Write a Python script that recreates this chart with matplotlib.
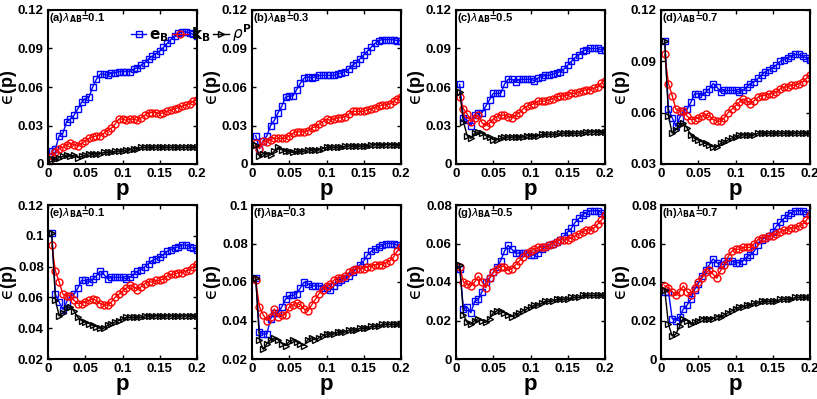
import matplotlib.pyplot as plt
import numpy as np

p = np.arange(1, 41) * 0.005

# panel (a) lambda_AB = 0.1
a_e = [0.010, 0.012, 0.022, 0.024, 0.033, 0.035, 0.038, 0.043, 0.048, 0.051,
       0.052, 0.060, 0.066, 0.070, 0.070, 0.069, 0.071, 0.071, 0.072, 0.072,
       0.072, 0.072, 0.074, 0.075, 0.077, 0.079, 0.082, 0.084, 0.086, 0.088,
       0.091, 0.094, 0.097, 0.100, 0.102, 0.103, 0.103, 0.102, 0.101, 0.100]
a_k = [0.006, 0.009, 0.012, 0.013, 0.015, 0.016, 0.015, 0.014, 0.016, 0.018,
       0.020, 0.021, 0.022, 0.022, 0.024, 0.026, 0.028, 0.031, 0.035, 0.035,
       0.034, 0.035, 0.035, 0.034, 0.036, 0.038, 0.040, 0.040, 0.040, 0.039,
       0.040, 0.041, 0.042, 0.043, 0.044, 0.045, 0.046, 0.047, 0.049, 0.050]
a_r = [0.004, 0.004, 0.005, 0.006, 0.007, 0.006, 0.007, 0.005, 0.006, 0.007,
       0.008, 0.008, 0.008, 0.008, 0.009, 0.009, 0.009, 0.010, 0.010, 0.010,
       0.011, 0.011, 0.012, 0.012, 0.013, 0.013, 0.013, 0.013, 0.013, 0.013,
       0.013, 0.013, 0.013, 0.013, 0.013, 0.013, 0.013, 0.013, 0.013, 0.013]

# panel (b) lambda_AB = 0.3
b_e = [0.022, 0.012, 0.018, 0.022, 0.030, 0.034, 0.040, 0.045, 0.052, 0.053,
       0.053, 0.058, 0.063, 0.067, 0.068, 0.067, 0.068, 0.069, 0.069, 0.069,
       0.069, 0.069, 0.070, 0.071, 0.072, 0.074, 0.077, 0.079, 0.082, 0.085,
       0.088, 0.091, 0.094, 0.096, 0.097, 0.097, 0.097, 0.097, 0.096, 0.096]
b_k = [0.016, 0.012, 0.018, 0.017, 0.019, 0.020, 0.020, 0.020, 0.020, 0.022,
       0.024, 0.025, 0.025, 0.025, 0.026, 0.028, 0.029, 0.031, 0.033, 0.035,
       0.034, 0.035, 0.036, 0.036, 0.037, 0.039, 0.041, 0.041, 0.041, 0.041,
       0.042, 0.043, 0.044, 0.045, 0.046, 0.046, 0.047, 0.049, 0.051, 0.052]
b_r = [0.015, 0.006, 0.008, 0.008, 0.007, 0.010, 0.013, 0.011, 0.010, 0.010,
       0.009, 0.010, 0.010, 0.010, 0.011, 0.011, 0.011, 0.011, 0.012, 0.013,
       0.013, 0.013, 0.013, 0.013, 0.014, 0.014, 0.014, 0.014, 0.014, 0.014,
       0.014, 0.015, 0.015, 0.015, 0.015, 0.015, 0.015, 0.015, 0.015, 0.015]

# panel (c) lambda_AB = 0.5
c_e = [0.062, 0.036, 0.034, 0.030, 0.038, 0.040, 0.040, 0.045, 0.050, 0.055,
       0.055, 0.055, 0.062, 0.066, 0.066, 0.064, 0.066, 0.066, 0.066, 0.066,
       0.065, 0.067, 0.068, 0.069, 0.069, 0.070, 0.071, 0.072, 0.074, 0.077,
       0.080, 0.083, 0.085, 0.088, 0.089, 0.090, 0.090, 0.090, 0.089, 0.089]
c_k = [0.052, 0.043, 0.039, 0.033, 0.036, 0.038, 0.032, 0.030, 0.032, 0.035,
       0.037, 0.038, 0.038, 0.037, 0.036, 0.038, 0.040, 0.043, 0.045, 0.046,
       0.047, 0.049, 0.049, 0.049, 0.050, 0.051, 0.052, 0.053, 0.053, 0.054,
       0.055, 0.055, 0.056, 0.057, 0.058, 0.058, 0.059, 0.060, 0.063, 0.065]
c_r = [0.056, 0.033, 0.022, 0.020, 0.024, 0.025, 0.024, 0.022, 0.021, 0.019,
       0.019, 0.020, 0.021, 0.021, 0.021, 0.021, 0.021, 0.021, 0.022, 0.022,
       0.022, 0.022, 0.023, 0.023, 0.023, 0.023, 0.023, 0.024, 0.024, 0.024,
       0.024, 0.024, 0.024, 0.024, 0.025, 0.025, 0.025, 0.025, 0.025, 0.025]

# panel (d) lambda_AB = 0.7
d_e = [0.102, 0.062, 0.057, 0.052, 0.057, 0.061, 0.062, 0.066, 0.071, 0.071,
       0.070, 0.072, 0.074, 0.077, 0.075, 0.072, 0.073, 0.073, 0.073, 0.073,
       0.072, 0.073, 0.075, 0.077, 0.078, 0.080, 0.082, 0.084, 0.085, 0.086,
       0.088, 0.090, 0.091, 0.092, 0.093, 0.094, 0.094, 0.093, 0.092, 0.091]
d_k = [0.094, 0.077, 0.070, 0.062, 0.061, 0.061, 0.058, 0.056, 0.056, 0.057,
       0.058, 0.059, 0.058, 0.056, 0.055, 0.055, 0.057, 0.060, 0.062, 0.064,
       0.066, 0.068, 0.067, 0.065, 0.067, 0.069, 0.070, 0.070, 0.071, 0.071,
       0.072, 0.074, 0.075, 0.075, 0.076, 0.076, 0.077, 0.078, 0.080, 0.082]
d_r = [0.102, 0.058, 0.048, 0.050, 0.053, 0.054, 0.051, 0.047, 0.045, 0.044,
       0.043, 0.042, 0.041, 0.040, 0.040, 0.042, 0.043, 0.044, 0.045, 0.046,
       0.047, 0.047, 0.047, 0.047, 0.047, 0.048, 0.048, 0.048, 0.048, 0.048,
       0.048, 0.048, 0.048, 0.048, 0.048, 0.048, 0.048, 0.048, 0.048, 0.048]

# panel (e) lambda_BA = 0.1
e_e = [0.102, 0.062, 0.057, 0.052, 0.057, 0.061, 0.062, 0.066, 0.071, 0.071,
       0.070, 0.072, 0.074, 0.077, 0.075, 0.072, 0.073, 0.073, 0.073, 0.073,
       0.072, 0.073, 0.075, 0.077, 0.078, 0.080, 0.082, 0.084, 0.085, 0.086,
       0.088, 0.090, 0.091, 0.092, 0.093, 0.094, 0.094, 0.093, 0.092, 0.091]
e_k = [0.094, 0.077, 0.070, 0.062, 0.061, 0.061, 0.058, 0.056, 0.056, 0.057,
       0.058, 0.059, 0.058, 0.056, 0.055, 0.055, 0.057, 0.060, 0.062, 0.064,
       0.066, 0.068, 0.067, 0.065, 0.067, 0.069, 0.070, 0.070, 0.071, 0.071,
       0.072, 0.074, 0.075, 0.075, 0.076, 0.076, 0.077, 0.078, 0.080, 0.082]
e_r = [0.102, 0.058, 0.048, 0.050, 0.053, 0.054, 0.051, 0.047, 0.045, 0.044,
       0.043, 0.042, 0.041, 0.040, 0.040, 0.042, 0.043, 0.044, 0.045, 0.046,
       0.047, 0.047, 0.047, 0.047, 0.047, 0.048, 0.048, 0.048, 0.048, 0.048,
       0.048, 0.048, 0.048, 0.048, 0.048, 0.048, 0.048, 0.048, 0.048, 0.048]

# panel (f) lambda_BA = 0.3
f_e = [0.062, 0.034, 0.033, 0.033, 0.041, 0.044, 0.044, 0.047, 0.051, 0.053,
       0.053, 0.054, 0.057, 0.060, 0.059, 0.058, 0.058, 0.058, 0.057, 0.057,
       0.056, 0.058, 0.060, 0.061, 0.062, 0.063, 0.065, 0.067, 0.069, 0.071,
       0.074, 0.076, 0.077, 0.078, 0.079, 0.080, 0.080, 0.080, 0.079, 0.078]
f_k = [0.061, 0.047, 0.043, 0.040, 0.042, 0.046, 0.042, 0.043, 0.043, 0.047,
       0.048, 0.049, 0.048, 0.046, 0.045, 0.048, 0.051, 0.054, 0.056, 0.058,
       0.059, 0.061, 0.062, 0.062, 0.063, 0.065, 0.066, 0.067, 0.067, 0.067,
       0.068, 0.068, 0.069, 0.069, 0.069, 0.070, 0.071, 0.073, 0.076, 0.078]
f_r = [0.062, 0.030, 0.025, 0.028, 0.030, 0.031, 0.030, 0.028, 0.027, 0.029,
       0.030, 0.029, 0.028, 0.027, 0.030, 0.031, 0.030, 0.031, 0.032, 0.033,
       0.033, 0.033, 0.034, 0.034, 0.034, 0.035, 0.035, 0.035, 0.036, 0.036,
       0.036, 0.037, 0.037, 0.037, 0.038, 0.038, 0.038, 0.038, 0.038, 0.038]

# panel (g) lambda_BA = 0.5
g_e = [0.047, 0.026, 0.027, 0.024, 0.030, 0.031, 0.035, 0.040, 0.042, 0.045,
       0.048, 0.051, 0.056, 0.059, 0.057, 0.055, 0.055, 0.055, 0.055, 0.054,
       0.054, 0.055, 0.057, 0.058, 0.059, 0.060, 0.061, 0.062, 0.064, 0.066,
       0.068, 0.071, 0.073, 0.075, 0.076, 0.077, 0.077, 0.077, 0.076, 0.075]
g_k = [0.048, 0.040, 0.039, 0.038, 0.040, 0.043, 0.040, 0.037, 0.042, 0.045,
       0.047, 0.048, 0.048, 0.046, 0.047, 0.049, 0.051, 0.053, 0.055, 0.056,
       0.057, 0.058, 0.058, 0.058, 0.059, 0.060, 0.061, 0.062, 0.062, 0.062,
       0.063, 0.064, 0.065, 0.066, 0.067, 0.067, 0.068, 0.070, 0.072, 0.075]
g_r = [0.049, 0.023, 0.019, 0.018, 0.020, 0.021, 0.020, 0.019, 0.021, 0.024,
       0.025, 0.025, 0.024, 0.023, 0.022, 0.023, 0.024, 0.025, 0.026, 0.027,
       0.028, 0.028, 0.029, 0.030, 0.030, 0.030, 0.031, 0.031, 0.031, 0.031,
       0.032, 0.032, 0.032, 0.033, 0.033, 0.033, 0.033, 0.033, 0.033, 0.033]

# panel (h) lambda_BA = 0.7
h_e = [0.035, 0.035, 0.021, 0.020, 0.022, 0.026, 0.028, 0.031, 0.036, 0.039,
       0.043, 0.046, 0.049, 0.052, 0.050, 0.049, 0.051, 0.051, 0.051, 0.050,
       0.050, 0.051, 0.053, 0.054, 0.056, 0.059, 0.062, 0.063, 0.064, 0.066,
       0.069, 0.071, 0.073, 0.075, 0.076, 0.077, 0.077, 0.077, 0.076, 0.075]
h_k = [0.038, 0.037, 0.035, 0.033, 0.035, 0.038, 0.035, 0.033, 0.037, 0.040,
       0.042, 0.045, 0.046, 0.044, 0.042, 0.046, 0.049, 0.053, 0.056, 0.057,
       0.057, 0.058, 0.058, 0.058, 0.060, 0.062, 0.063, 0.063, 0.064, 0.064,
       0.065, 0.066, 0.067, 0.067, 0.068, 0.068, 0.069, 0.070, 0.072, 0.075]
h_r = [0.036, 0.018, 0.012, 0.013, 0.017, 0.021, 0.020, 0.018, 0.019, 0.020,
       0.021, 0.021, 0.021, 0.021, 0.022, 0.022, 0.023, 0.024, 0.025, 0.026,
       0.027, 0.027, 0.028, 0.028, 0.029, 0.029, 0.030, 0.030, 0.030, 0.030,
       0.030, 0.031, 0.031, 0.031, 0.031, 0.032, 0.032, 0.032, 0.032, 0.032]

panel_labels = [r'(a)$\lambda_{\bf AB}$=0.1', r'(b)$\lambda_{\bf AB}$=0.3',
                r'(c)$\lambda_{\bf AB}$=0.5', r'(d)$\lambda_{\bf AB}$=0.7',
                r'(e)$\lambda_{\bf BA}$=0.1', r'(f)$\lambda_{\bf BA}$=0.3',
                r'(g)$\lambda_{\bf BA}$=0.5', r'(h)$\lambda_{\bf BA}$=0.7']
series = [(a_e, a_k, a_r), (b_e, b_k, b_r), (c_e, c_k, c_r), (d_e, d_k, d_r),
          (e_e, e_k, e_r), (f_e, f_k, f_r), (g_e, g_k, g_r), (h_e, h_k, h_r)]
ylims = [(0, 0.12), (0, 0.12), (0, 0.12), (0.03, 0.12),
         (0.02, 0.12), (0.02, 0.1), (0, 0.08), (0, 0.08)]
yticks = [[0, 0.03, 0.06, 0.09, 0.12], [0, 0.03, 0.06, 0.09, 0.12],
          [0, 0.03, 0.06, 0.09, 0.12], [0.03, 0.06, 0.09, 0.12],
          [0.02, 0.04, 0.06, 0.08, 0.1, 0.12], [0.02, 0.04, 0.06, 0.08, 0.1],
          [0, 0.02, 0.04, 0.06, 0.08], [0, 0.02, 0.04, 0.06, 0.08]]
xticks = [0, 0.05, 0.1, 0.15, 0.2]

plt.rcParams['font.family'] = 'Liberation Sans'
plt.rcParams['mathtext.fontset'] = 'dejavusans'

fig = plt.figure(figsize=(8.17, 3.99), dpi=100)
W, H = 817, 399
lefts = [48, 252, 456, 661]
tops = [10, 205]
aw, ah = 149, 154

for i in range(8):
    row, col = divmod(i, 4)
    ax = fig.add_axes([lefts[col] / W, 1 - (tops[row] + ah) / H, aw / W, ah / H])
    e, k, r = series[i]
    ax.plot(p, e, '-s', color='#0000ff', mfc='none', ms=5, lw=1, mew=1, label=r'$\bf{e_B}$')
    ax.plot(p, k, '-o', color='#ff0000', mfc='none', ms=5, lw=1, mew=1, label=r'$\bf{k_B}$')
    ax.plot(p, r, '->', color='black', mfc='none', ms=5, lw=1, mew=1, label=r'$\rho^{\bf P}$')
    ax.set_xlim(0, 0.2)
    ax.set_ylim(*ylims[i])
    ax.set_xticks(xticks)
    ax.set_xticklabels(['0', '0.05', '0.1', '0.15', '0.2'], fontweight='bold')
    ax.set_yticks(yticks[i])
    ax.set_yticklabels(['0' if t == 0 else ('%g' % t) for t in yticks[i]], fontweight='bold')
    ax.tick_params(direction='in', top=True, right=True, length=3, width=1,
                   labelsize=9.5, pad=3)
    for s in ax.spines.values():
        s.set_linewidth(1.5)
    ax.set_xlabel('p', fontsize=16, fontweight='bold', labelpad=-1)
    ax.set_ylabel('$\\mathrm{\u03f5}$(p)', fontsize=13, fontweight='bold', labelpad=-1)
    ax.text(0.005, 0.995, panel_labels[i], transform=ax.transAxes, ha='left', va='top',
            fontsize=8, fontweight='bold')
    if i == 0:
        handles, labels = ax.get_legend_handles_labels()

fig.legend(handles, labels, loc='center left', bbox_to_anchor=(131 / W, 1 - 33 / H),
           ncol=3, frameon=False, fontsize=11, handlelength=1.0, handletextpad=0.2,
           columnspacing=0.2, borderaxespad=0, borderpad=0)

fig.savefig('out.png', dpi=100)
